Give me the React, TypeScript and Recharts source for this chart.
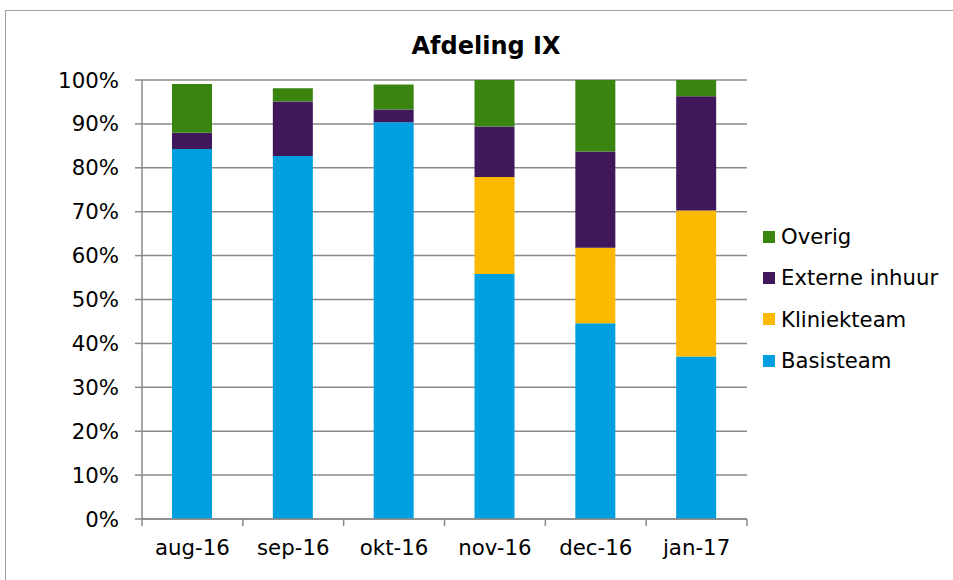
import { BarChart, Bar, XAxis, YAxis, CartesianGrid, Legend } from 'recharts';

const months = ['aug-16', 'sep-16', 'okt-16', 'nov-16', 'dec-16', 'jan-17'];
const basisteam = [84.3, 82.7, 90.4, 55.8, 44.6, 37.0];
const kliniekteam = [0, 0, 0, 22.1, 17.2, 33.3];
const externeInhuur = [3.7, 12.4, 2.9, 11.5, 21.9, 26.0];
const overig = [11.1, 3.0, 5.7, 10.6, 16.3, 3.7];
const yTicks = [0, 10, 20, 30, 40, 50, 60, 70, 80, 90, 100];

const series = [
  { key: 'Basisteam', values: basisteam, color: '#009fdf' },
  { key: 'Kliniekteam', values: kliniekteam, color: '#fbba00' },
  { key: 'Externe inhuur', values: externeInhuur, color: '#41175c' },
  { key: 'Overig', values: overig, color: '#3a8510' },
];

const data = months.map((m, i) => {
  const row: Record<string, string | number> = { month: m };
  series.forEach(s => { row[s.key] = s.values[i]; });
  return row;
});

const FONT = '"DejaVu Sans", Verdana, sans-serif';
const GRID = '#898989';
const W = 953;
const H = 580;
const M = { top: 80, right: 206, left: 0, bottom: 11 };
const Y_W = 142;
const STEP = (W - M.left - M.right - Y_W) / months.length;

function MonthTick(props: any) {
  const { x, y, payload, index } = props;
  return (
    <g>
      <line x1={x - STEP / 2} x2={x - STEP / 2} y1={y} y2={y + 7} stroke={GRID} strokeWidth={1.5} />
      {index === months.length - 1 && (
        <line x1={x + STEP / 2} x2={x + STEP / 2} y1={y} y2={y + 7} stroke={GRID} strokeWidth={1.5} />
      )}
      <text x={x} y={y + 36} textAnchor="middle" fill="#000" fontSize={21.3} fontFamily={FONT}>
        {payload.value}
      </text>
    </g>
  );
}

function LegendBox() {
  return (
    <div style={{ fontFamily: FONT, fontSize: 21.2, color: '#000' }}>
      {[...series].reverse().map(s => (
        <div key={s.key} style={{ display: 'flex', alignItems: 'center', height: 41.4, lineHeight: '41.4px' }}>
          <span style={{ width: 12, height: 12, background: s.color, marginRight: 6, display: 'inline-block' }} />
          <span>{s.key}</span>
        </div>
      ))}
    </div>
  );
}

export default function App() {
  return (
    <div style={{ position: 'absolute', left: 0, top: 0, width: W, height: H, overflow: 'hidden', background: '#fff' }}>
      <div style={{ position: 'absolute', left: 5, top: 10, width: 960, height: 700, border: '1.5px solid #a0a0a0', boxSizing: 'border-box' }} />
      <div style={{ position: 'absolute', left: 5, top: 34, width: 962, textAlign: 'center', fontFamily: FONT, fontSize: 24, fontWeight: 'bold', lineHeight: '24px' }}>
        Afdeling IX
      </div>
      <div style={{ position: 'absolute', left: 0, top: 0 }}>
        <BarChart width={W} height={H} data={data} margin={M}>
          <CartesianGrid vertical={false} stroke={GRID} strokeWidth={1.5} />
          <XAxis
            dataKey="month"
            height={50}
            tickLine={false}
            tickSize={0}
            tickMargin={0}
            axisLine={{ stroke: GRID, strokeWidth: 1.5 }}
            tick={<MonthTick />}
            interval={0}
          />
          <YAxis
            width={Y_W}
            domain={[0, 100]}
            ticks={yTicks}
            tickFormatter={(v: number) => `${v}%`}
            tickSize={7}
            tickMargin={16}
            axisLine={{ stroke: GRID, strokeWidth: 1.5 }}
            tickLine={{ stroke: GRID, strokeWidth: 1.5 }}
            tick={{ fill: '#000', fontSize: 21.3, fontFamily: FONT }}
            interval={0}
          />
          <Legend
            layout="vertical"
            align="center"
            verticalAlign="middle"
            content={() => <LegendBox />}
            wrapperStyle={{ position: 'absolute', left: 763, top: 216, width: 190 }}
          />
          {series.map(s => (
            <Bar key={s.key} dataKey={s.key} stackId="a" fill={s.color} barSize={40} isAnimationActive={false} />
          ))}
        </BarChart>
      </div>
    </div>
  );
}
